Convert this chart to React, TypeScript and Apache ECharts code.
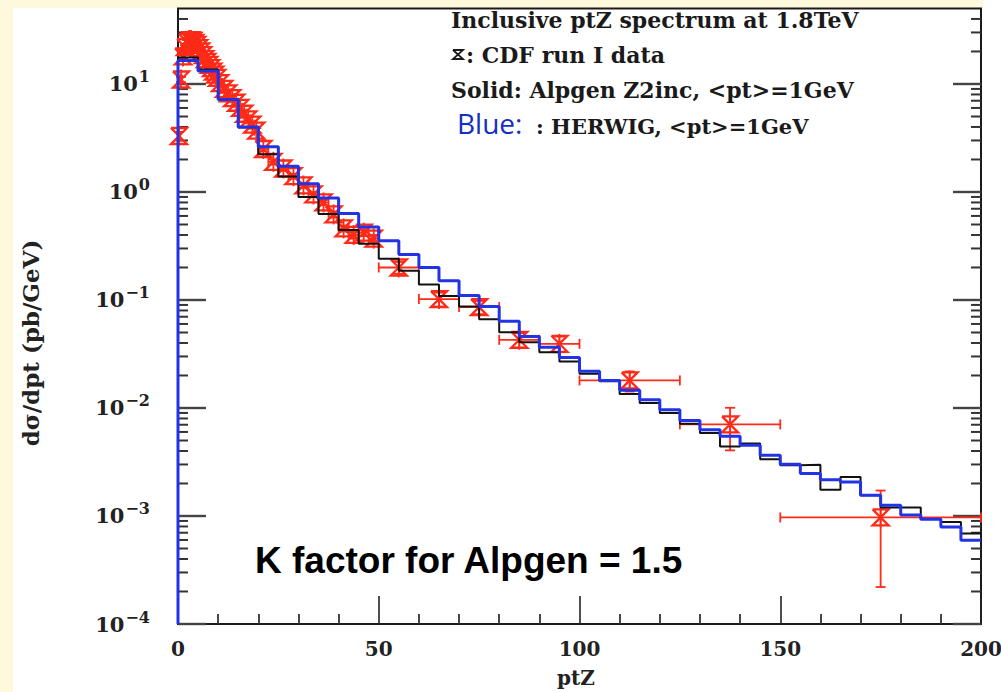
import React, { useEffect, useRef } from "react";
import * as echarts from "echarts";

// ---------- data ----------
const binEdges = [
  0, 5, 10, 15, 20, 25, 30, 35, 40, 45, 50, 55, 60, 65, 70, 75, 80, 85, 90, 95, 100,
  105, 110, 115, 120, 125, 130, 135, 140, 145, 150, 155, 160, 165, 170, 175, 180, 185, 190, 195, 200,
];

// Solid (black): Alpgen Z2inc, <pt>=1GeV  (pb/GeV per 5 GeV bin)
const alpgenZ2inc = [
  17.6, 13.6, 7.27, 3.98, 2.23, 1.39, 0.897, 0.625, 0.445, 0.332,
  0.241, 0.187, 0.139, 0.109, 0.0869, 0.0662, 0.0502, 0.0406, 0.0329, 0.027,
  0.0207, 0.0177, 0.0135, 0.0111, 0.00898, 0.00716, 0.00586, 0.00441, 0.00468, 0.00335,
  0.00295, 0.00298, 0.00175, 0.0023, 0.00156, 0.0012, 0.0012, 0.000938, 0.000881, 0.000689,
];

// Blue: HERWIG, <pt>=1GeV
const herwig = [
  16.5, 13.2, 7.2, 4.0, 2.62, 1.73, 1.19, 0.879, 0.632, 0.474,
  0.354, 0.264, 0.2, 0.151, 0.11, 0.0869, 0.0635, 0.0459, 0.0366, 0.0294,
  0.0219, 0.018, 0.0146, 0.0119, 0.00964, 0.00767, 0.00629, 0.00547, 0.00451, 0.00365,
  0.00301, 0.00247, 0.00217, 0.00206, 0.00156, 0.00126, 0.00102, 0.000935, 0.000792, 0.000597,
];

// CDF run I data
const cdfPt = [
  0.25, 0.75, 1.25, 1.75, 2.25, 2.75, 3.25, 3.75, 4.25, 4.75,
  5.25, 5.75, 6.25, 6.75, 7.25, 7.75, 8.25, 8.75, 9.25, 9.75,
  10.5, 11.5, 12.5, 13.5, 14.5, 15.5, 16.5, 17.5, 18.5, 19.5,
  21.25, 23.75, 26.25, 28.75, 31.25, 33.75, 36.25, 38.75, 41.25, 43.75, 46.25, 48.75,
  55, 65, 75, 85, 95, 112.5, 137.5, 175,
];
const cdfValue = [
  3.3, 11, 18, 22, 24.5, 25.5, 25.5, 25, 24, 23,
  21.5, 20, 18.5, 17, 16, 15, 14, 13, 12.2, 11.4,
  10.2, 9.0, 8.2, 7.4, 6.7, 6.0, 5.3, 4.7, 4.2, 3.7,
  2.5, 1.9, 1.65, 1.4, 1.15, 0.95, 0.8, 0.62, 0.46, 0.4, 0.42, 0.37,
  0.2, 0.102, 0.086, 0.0428, 0.0393, 0.018, 0.00705, 0.00097,
];
const cdfPtHalfWidth = [
  0.25, 0.25, 0.25, 0.25, 0.25, 0.25, 0.25, 0.25, 0.25, 0.25,
  0.25, 0.25, 0.25, 0.25, 0.25, 0.25, 0.25, 0.25, 0.25, 0.25,
  0.5, 0.5, 0.5, 0.5, 0.5, 0.5, 0.5, 0.5, 0.5, 0.5,
  1.25, 1.25, 1.25, 1.25, 1.25, 1.25, 1.25, 1.25, 1.25, 1.25, 1.25, 1.25,
  5, 5, 5, 5, 5, 12.5, 12.5, 25,
];
const cdfError = [
  0.3, 0.6, 0.8, 0.9, 1.0, 1.0, 1.0, 1.0, 1.0, 0.9,
  0.9, 0.8, 0.8, 0.7, 0.7, 0.7, 0.6, 0.6, 0.6, 0.5,
  0.5, 0.45, 0.4, 0.4, 0.35, 0.3, 0.3, 0.25, 0.25, 0.2,
  0.12, 0.1, 0.08, 0.07, 0.06, 0.05, 0.045, 0.04, 0.03, 0.03, 0.03, 0.03,
  0.025, 0.015, 0.012, 0.0065, 0.0065, 0.0038, 0.003, 0.00075,
];

const yDecades = [1e-4, 1e-3, 1e-2, 1e-1, 1, 10];
const yMinorMultipliers = [2, 3, 4, 5, 6, 7, 8, 9];
const Y_MIN = 1e-4;
const Y_MAX = 50;
const X_MIN = 0;
const X_MAX = 200;

const titleLine = "Inclusive ptZ spectrum at 1.8TeV";
const dataLine = ": CDF run I data";
const solidLine = "Solid: Alpgen Z2inc, <pt>=1GeV";
const blueLabel = "Blue:";
const blueLine = ": HERWIG, <pt>=1GeV";
const kFactorText = "K factor for Alpgen = 1.5";
const yTitle = "d\u03C3/dpt (pb/GeV)";
const xTitle = "ptZ";

// ---------- styling ----------
const SERIF = '"DejaVu Serif", "Liberation Serif", serif';
const RED = "#ff2a18";
const BLUE = "#2233e6";
const BLACK = "#111111";

function stepPoints(values: number[]): [number, number][] {
  const pts: [number, number][] = [[binEdges[0], Y_MIN]];
  values.forEach((v, i) => {
    pts.push([binEdges[i], v]);
    pts.push([binEdges[i + 1], v]);
  });
  return pts;
}

export default function App() {
  const ref = useRef<HTMLDivElement>(null);

  useEffect(() => {
    if (!ref.current) return;
    const chart = echarts.init(ref.current, null, { renderer: "svg" });

    const tickData: [number, number, number][] = [];
    yDecades.forEach((d) => {
      tickData.push([X_MIN, d, 1]);
      yMinorMultipliers.forEach((m) => {
        const v = d * m;
        if (v < Y_MAX) tickData.push([X_MIN, v, 0]);
      });
    });

    const cdfData = cdfPt.map((pt, i) => [
      pt,
      cdfValue[i],
      pt - cdfPtHalfWidth[i],
      pt + cdfPtHalfWidth[i],
      cdfError[i],
    ]);

    const supLabel = (v: number) => {
      const lg = Math.log10(v);
      const e = Math.round(lg);
      if (Math.abs(lg - e) > 1e-6) return "";
      const exp = e < 0 ? "\u2212" + Math.abs(e) : String(e);
      return `{b|10}{s|${exp}}`;
    };

    const option: any = {
      animation: false,
      backgroundColor: "transparent",
      grid: {
        left: 178,
        right: 20,
        top: 8.5,
        bottom: 68,
        show: true,
        borderColor: "#1a1a1a",
        borderWidth: 2,
        backgroundColor: "transparent",
        containLabel: false,
        outerBoundsMode: "none",
      },
      xAxis: {
        type: "value",
        min: X_MIN,
        max: X_MAX,
        interval: 50,
        axisLine: { show: false },
        splitLine: { show: false },
        axisTick: { show: true, inside: true, length: 28, lineStyle: { color: "#222", width: 1.6 } },
        minorTick: { show: true, splitNumber: 5, length: 10, lineStyle: { color: "#333", width: 1.8 } },
        axisLabel: {
          margin: 15,
          fontFamily: SERIF,
          fontWeight: "bold",
          fontSize: 20,
          color: "#222",
        },
      },
      yAxis: {
        type: "log",
        logBase: 10,
        min: Y_MIN,
        max: Y_MAX,
        axisLine: { show: false },
        splitLine: { show: false },
        axisTick: { show: false },
        minorTick: { show: false },
        axisLabel: {
          margin: 28,
          formatter: supLabel,
          rich: {
            b: { fontFamily: SERIF, fontWeight: "bold", fontSize: 21, color: "#222" },
            s: {
              fontFamily: SERIF,
              fontWeight: "bold",
              fontSize: 16,
              color: "#222",
              padding: [0, 0, 14, 1],
            },
          },
        },
      },
      series: [
        {
          name: "ticks",
          type: "custom",
          silent: true,
          z: 1,
          encode: { x: 0, y: 1 },
          data: tickData,
          renderItem: (_p: any, api: any) => {
            const v = api.value(1);
            const major = api.value(2) === 1;
            const l = api.coord([X_MIN, v]);
            const r = api.coord([X_MAX, v]);
            const len = major ? 28 : 10;
            const style = { stroke: major ? "#444" : "#333", lineWidth: major ? 2.4 : 2 };
            return {
              type: "group",
              children: [
                { type: "line", shape: { x1: l[0], y1: l[1], x2: l[0] + len, y2: l[1] }, style },
                { type: "line", shape: { x1: r[0], y1: r[1], x2: r[0] - len, y2: r[1] }, style },
              ],
            };
          },
        },
        {
          name: "CDF run I data",
          type: "custom",
          z: 2,
          encode: { x: [0, 2, 3], y: 1 },
          data: cdfData,
          renderItem: (_p: any, api: any) => {
            const x = api.value(0);
            const y = api.value(1);
            const xlo = api.value(2);
            const xhi = api.value(3);
            const err = api.value(4);
            const c = api.coord([x, y]);
            const top = api.coord([x, y + err]);
            const bot = api.coord([x, Math.max(y - err, Y_MIN)]);
            const l = api.coord([xlo, y]);
            const r = api.coord([xhi, y]);
            const s = 8;
            const cap = 5;
            const style = { stroke: RED, lineWidth: 2.3, fill: null };
            const thin = { stroke: RED, lineWidth: 1.8, fill: null };
            return {
              type: "group",
              children: [
                { type: "line", shape: { x1: l[0], y1: c[1], x2: r[0], y2: c[1] }, style: thin },
                { type: "line", shape: { x1: l[0], y1: c[1] - cap, x2: l[0], y2: c[1] + cap }, style: thin },
                { type: "line", shape: { x1: r[0], y1: c[1] - cap, x2: r[0], y2: c[1] + cap }, style: thin },
                { type: "line", shape: { x1: c[0], y1: top[1], x2: c[0], y2: bot[1] }, style: thin },
                { type: "line", shape: { x1: c[0] - cap, y1: top[1], x2: c[0] + cap, y2: top[1] }, style: thin },
                { type: "line", shape: { x1: c[0] - cap, y1: bot[1], x2: c[0] + cap, y2: bot[1] }, style: thin },
                {
                  type: "polyline",
                  shape: {
                    points: [
                      [c[0] - s, c[1] - s],
                      [c[0] + s, c[1] - s],
                      [c[0] - s, c[1] + s],
                      [c[0] + s, c[1] + s],
                      [c[0] - s, c[1] - s],
                    ],
                  },
                  style,
                },
                { type: "line", shape: { x1: c[0], y1: c[1] - s - 2, x2: c[0], y2: c[1] + s + 2 }, style: thin },
              ],
            };
          },
        },
        {
          name: "Alpgen Z2inc",
          type: "line",
          z: 3,
          clip: false,
          showSymbol: false,
          symbol: "none",
          data: stepPoints(alpgenZ2inc),
          lineStyle: { color: BLACK, width: 2 },
        },
        {
          name: "HERWIG",
          type: "line",
          z: 4,
          clip: false,
          showSymbol: false,
          symbol: "none",
          data: stepPoints(herwig),
          lineStyle: { color: BLUE, width: 3 },
        },
      ],
      graphic: [
        {
          type: "text",
          x: 451,
          y: 20,
          style: { text: titleLine, font: `bold 22px ${SERIF}`, fill: "#1a1a1a", verticalAlign: "middle" },
        },
        {
          type: "polyline",
          shape: {
            points: [
              [453, 50],
              [463, 50],
              [453, 59],
              [463, 59],
              [453, 50],
            ],
          },
          style: { stroke: "#1a1a1a", lineWidth: 1.8, fill: null },
        },
        {
          type: "text",
          x: 466,
          y: 55,
          style: { text: dataLine, font: `bold 22px ${SERIF}`, fill: "#1a1a1a", verticalAlign: "middle" },
        },
        {
          type: "text",
          x: 451,
          y: 90,
          style: { text: solidLine, font: `bold 22px ${SERIF}`, fill: "#1a1a1a", verticalAlign: "middle" },
        },
        {
          type: "text",
          x: 457,
          y: 123,
          style: { text: blueLabel, font: `28px "Open Sans", "Noto Sans", sans-serif`, fill: "#1530c0", verticalAlign: "middle" },
        },
        {
          type: "text",
          x: 536,
          y: 126,
          style: { text: blueLine, font: `bold 21px ${SERIF}`, fill: "#1a1a1a", verticalAlign: "middle" },
        },
        {
          type: "text",
          x: 255,
          y: 560,
          style: { text: kFactorText, font: `bold 37px "Liberation Sans", Arial, sans-serif`, fill: "#000", verticalAlign: "middle" },
        },
        {
          type: "text",
          x: 30,
          y: 343,
          rotation: Math.PI / 2,
          style: { text: yTitle, font: `bold 23px ${SERIF}`, fill: "#222", align: "center", verticalAlign: "middle" },
        },
        {
          type: "text",
          x: 576,
          y: 678,
          style: { text: xTitle, font: `bold 20px ${SERIF}`, fill: "#222", align: "center", verticalAlign: "middle" },
        },
      ],
    };

    chart.setOption(option);
    return () => chart.dispose();
  }, []);

  return (
    <div style={{ position: "absolute", left: 0, top: 0, width: 1001, height: 692, background: "#fef8dc", overflow: "hidden" }}>
      <div style={{ position: "absolute", left: 13, top: 8, width: 988, height: 684, background: "#ffffff" }} />
      <div style={{ position: "absolute", left: 983, top: 0, width: 18, height: 8, background: "#ffffff" }} />
      <div ref={ref} style={{ position: "absolute", left: 0, top: 0, width: 1001, height: 692 }} />
    </div>
  );
}
